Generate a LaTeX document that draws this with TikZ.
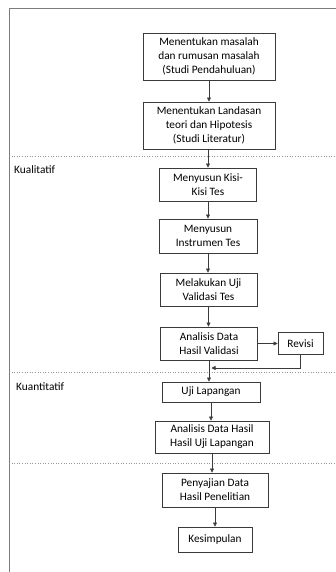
\documentclass[tikz,border=0pt]{standalone}
\usepackage{fontspec}
\setmainfont{Carlito}
\usetikzlibrary{arrows.meta}
\definecolor{garis}{HTML}{3A3A3A}
\definecolor{bingkai}{HTML}{7C7C7C}
\begin{document}
\begin{tikzpicture}[x=1pt,y=-1pt,
  tahap/.style={draw=garis, line width=0.9pt, align=center, inner sep=1pt,
    font=\fontsize{11.3}{14}\selectfont},
  panah/.style={draw=garis, line width=0.6pt, -{Triangle[length=4pt,width=4pt]}},
  pemisah/.style={draw=bingkai!80, line width=0.6pt, dotted},
  label/.style={anchor=west, inner sep=0pt, font=\fontsize{11.3}{14}\selectfont}]
\useasboundingbox (0,0) rectangle (336,572);
% bingkai
\draw[bingkai, line width=0.9pt] (336,8) -- (9,8) -- (9,572);
\draw[pemisah] (9,156) -- (336,156);
\draw[pemisah] (9,372) -- (336,372);
\draw[pemisah] (9,463) -- (336,463);
\node[label] (kual) at (14,170){Kualitatif};
\node[label] (kuan) at (16,387){Kuantitatif};
% tahapan
\node[tahap, minimum width=132pt, minimum height=47pt] (b1) at (209,56.5){Menentukan masalah\\dan rumusan masalah\\(Studi Pendahuluan)};
\node[tahap, minimum width=132pt, minimum height=47pt] (b2) at (209,125.5){Menentukan Landasan\\teori dan Hipotesis\\(Studi Literatur)};
\node[tahap, minimum width=97pt, minimum height=33pt] (b3) at (208,184.5){Menyusun Kisi-\\Kisi Tes};
\node[tahap, minimum width=98pt, minimum height=34pt] (b4) at (208,236){Menyusun\\Instrumen Tes};
\node[tahap, minimum width=97pt, minimum height=33pt] (b5) at (208.5,289.5){Melakukan Uji\\Validasi Tes};
\node[tahap, minimum width=97pt, minimum height=33pt] (b6) at (209,343.5){Analisis Data\\Hasil Validasi};
\node[tahap, minimum width=45pt, minimum height=22pt] (rev) at (300.5,343.5){Revisi};
\node[tahap, minimum width=98pt, minimum height=20pt] (b7) at (211,392){Uji Lapangan};
\node[tahap, minimum width=114pt, minimum height=32pt] (b8) at (212,437){Analisis Data Hasil\\Hasil Uji Lapangan};
\node[tahap, minimum width=106pt, minimum height=34pt] (b9) at (215,490){Penyajian Data\\Hasil Penelitian};
\node[tahap, minimum width=74pt, minimum height=25pt] (b10) at (215,539.5){Kesimpulan};
\coordinate (gabung) at (211.5,368);
% alur
\draw[panah] (b1) -- (b2);
\draw[panah] (b2.south -| b3) -- (b3.north);
\draw[panah] (b3) -- (b4);
\draw[panah] (b4.south) -- (b4.south |- b5.north);
\draw[panah] (b5.south) -- (b5.south |- b6.north);
\draw[panah] (b6.south) -- (b6.south |- b7.north);
\draw[panah] (b6) -- (rev);
\draw[panah] (rev.south) |- (gabung);
\draw[panah] (b7.south) -- (b7.south |- b8.north);
\draw[panah] (b8.south) -- (b8.south |- b9.north);
\draw[panah] (b9) -- (b10);
\end{tikzpicture}
\end{document}
